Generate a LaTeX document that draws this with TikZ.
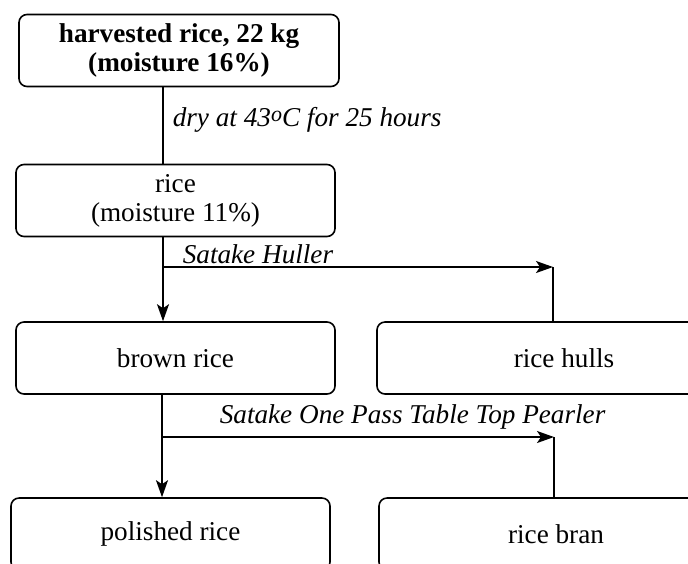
\documentclass[tikz,border=0pt]{standalone}
\usepackage{fontspec}
\setmainfont{Liberation Serif}
\usetikzlibrary{arrows.meta}
\begin{document}
\begin{tikzpicture}[x=0.5pt, y=-0.5pt, line width=0.8pt,
  stage/.style={draw, rounded corners=4pt, align=center, minimum height=36pt,
    inner sep=2pt, font=\fontsize{13.6}{14.5}\selectfont},
  proc/.style={inner sep=0pt, font=\fontsize{13.6}{14.5}\selectfont\itshape},
  >={Stealth[length=8.5pt,width=6pt,inset=2pt]}]
  \useasboundingbox (0,0) rectangle (688,563);
  % stages
  \node[stage, minimum width=160pt, font=\fontsize{13.6}{14.5}\selectfont\bfseries]
    (harvest) at (179,50.5) {harvested rice, 22 kg\\(moisture 16\%)};
  \node[stage, minimum width=159.5pt] (rice) at (175.5,200.5) {rice\\(moisture 11\%)};
  \node[stage, minimum width=159.5pt] (brown) at (175.5,358) {brown rice};
  \node[stage, minimum width=187pt] (hulls) at (564,358) {rice hulls};
  \node[stage, minimum width=159.5pt] (polished) at (170.5,534) {polished rice};
  \node[stage, minimum width=177pt] (bran) at (556,534) {rice bran};
  % forks
  \coordinate (hullfork) at (163,267);
  \coordinate (hullend) at (553,267);
  \coordinate (branfork) at (162,437);
  \coordinate (branend) at (554,437);
  % flow
  \draw (harvest.south -| hullfork) -- (rice.north -| hullfork);
  \draw[->] (rice.south -| hullfork) -- (brown.north -| hullfork);
  \draw[->] (hullfork) -- (hullend);
  \draw (hulls.north -| hullend) -- (hullend);
  \draw[->] (brown.south -| branfork) -- (polished.north -| branfork);
  \draw[->] (branfork) -- (branend);
  \draw (bran.north -| branend) -- (branend);
  % process labels
  \node[proc, anchor=base west] (dry) at (172,126)
    {dry at 43\raisebox{2.5pt}{\fontsize{11}{12}\selectfont o}C for 25 hours};
  \node[proc, anchor=base west] (huller) at (182,263) {Satake Huller};
  \node[proc, anchor=base west] (pearler) at (219,423) {Satake One Pass Table Top Pearler};
\end{tikzpicture}
\end{document}
